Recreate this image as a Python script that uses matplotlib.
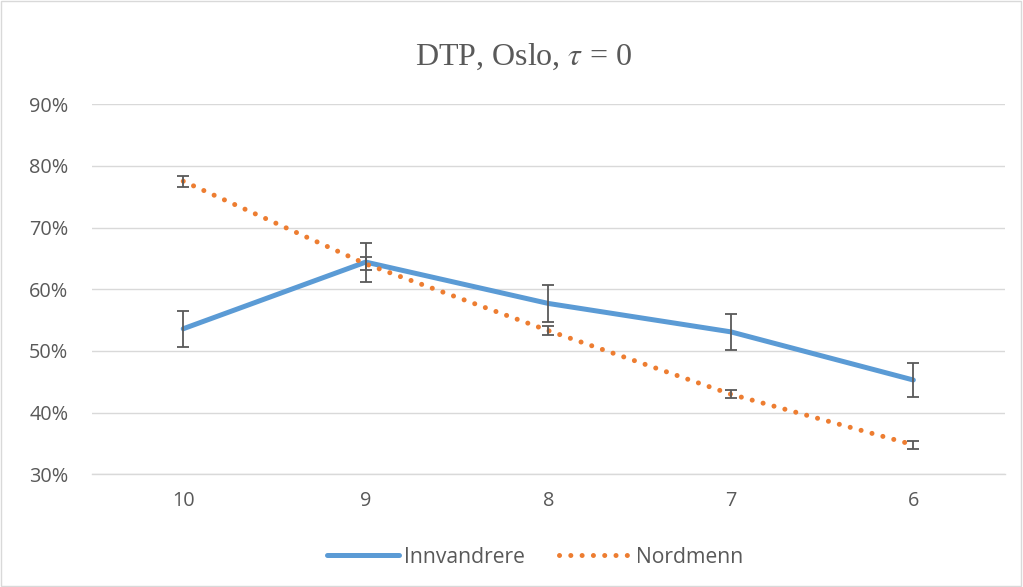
import matplotlib
matplotlib.use("Agg")
import matplotlib.pyplot as plt
from matplotlib.patches import Rectangle

# Data
GRADES = ["10", "9", "8", "7", "6"]
INNVANDRERE = [53.6, 64.4, 57.7, 53.1, 45.3]
INNVANDRERE_ERR = [2.9, 3.15, 2.95, 2.9, 2.7]
NORDMENN = [77.5, 64.1, 53.3, 43.0, 34.8]
NORDMENN_ERR = [0.9, 1.05, 0.75, 0.65, 0.6]
Y_TICKS = [30, 40, 50, 60, 70, 80, 90]

BLUE = "#5B9BD5"
ORANGE = "#ED7D31"
GRAY = "#595959"
GRID = "#D9D9D9"

plt.rcParams["font.family"] = ["Open Sans", "DejaVu Sans"]
plt.rcParams["mathtext.fontset"] = "stix"

fig = plt.figure(figsize=(10.23, 5.87), dpi=100)
ax = fig.add_axes([0.0899, 0.1917, 0.8921, 0.6311])

x = list(range(len(GRADES)))

ax.plot(x, INNVANDRERE, color=BLUE, lw=3.6, solid_capstyle="round",
        solid_joinstyle="round", label="Innvandrere", zorder=3)
ax.plot(x, NORDMENN, color=ORANGE, lw=3.6, linestyle=(0, (0.01, 2.25)),
        dash_capstyle="round", label="Nordmenn", zorder=3)

ax.errorbar(x, INNVANDRERE, yerr=INNVANDRERE_ERR, fmt="none", ecolor=GRAY,
            elinewidth=1.3, capsize=4.3, capthick=1.3, zorder=4)
ax.errorbar(x, NORDMENN, yerr=NORDMENN_ERR, fmt="none", ecolor=GRAY,
            elinewidth=1.3, capsize=4.3, capthick=1.3, zorder=4)

ax.set_xlim(-0.5, len(GRADES) - 0.5)
ax.set_ylim(30, 90)
ax.set_yticks(Y_TICKS)
ax.set_yticklabels([f"{v}%" for v in Y_TICKS])
ax.set_xticks(x)
ax.set_xticklabels(GRADES)
ax.tick_params(axis="both", length=0, labelsize=14.3, colors=GRAY)
ax.tick_params(axis="y", pad=17)
ax.tick_params(axis="x", pad=12)
ax.grid(axis="y", color=GRID, lw=1.0, zorder=0)
for s in ["top", "right", "left"]:
    ax.spines[s].set_visible(False)
ax.spines["bottom"].set_color(GRID)
ax.spines["bottom"].set_linewidth(1.0)

fig.text(0.512, 0.903, r"DTP, Oslo, $\tau$ = 0", ha="center", va="center",
         fontsize=23, color=GRAY, family=["Liberation Serif"])

fig.legend(loc="center", bbox_to_anchor=(0.523, 0.051), ncol=2, frameon=False,
           fontsize=15.2, handlelength=3.4, columnspacing=1.6, handletextpad=0.25,
           labelcolor=GRAY)

fig.patches.append(Rectangle((0.001, 0.001), 0.997, 0.997, transform=fig.transFigure,
                             fill=False, edgecolor=GRID, lw=1.0))

fig.savefig("out.png", dpi=100, facecolor="white")
